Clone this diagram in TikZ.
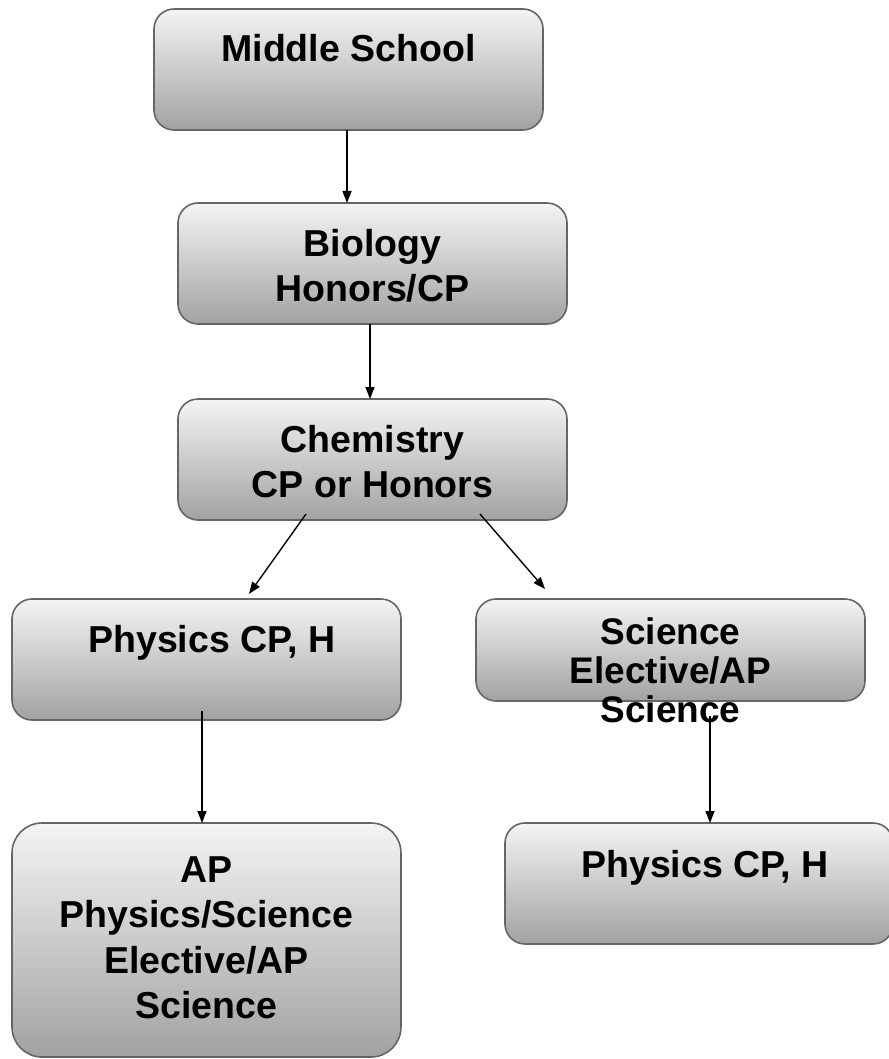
\documentclass[tikz,border=0pt]{standalone}
\usepackage{fontspec}
\setmainfont{Liberation Sans}
\usetikzlibrary{arrows.meta,calc}
\definecolor{boxline}{HTML}{656565}
\definecolor{boxtop}{HTML}{F4F4F4}
\definecolor{boxbot}{HTML}{A2A2A2}
\begin{document}
\begin{tikzpicture}[x=1pt,y=-1pt,
  box/.style={draw=boxline, line width=1.6pt, rounded corners=20pt, top color=boxtop, bottom color=boxbot,
    minimum width=389pt, minimum height=121pt, inner sep=0pt, outer sep=0pt, anchor=north west},
  txt/.style={font=\fontsize{37.5}{45.5}\selectfont\bfseries, align=center, anchor=base, inner sep=0pt},
  arr/.style={-{Triangle[length=12pt,width=9pt]}, line width=1.4pt}]
\useasboundingbox (0,0) rectangle (888,1059);
% boxes
\node[box] (ms) at (154,9) {};
\node[box] (bio) at (178,203) {};
\node[box] (chem) at (178,399) {};
\node[box] (physl) at (12,599) {};
\node[box, minimum height=102pt] (sci) at (476,599) {};
\node[box, minimum height=234pt, rounded corners=30pt] (ap) at (12,823) {};
\node[box, minimum width=388pt] (physr) at (505,823) {};
% texts (anchor = baseline of the last line)
\node[txt] (tms) at (348.5,62) {Middle School};
\node[txt] (tbio) at (372.5,301.5) {Biology\\Honors/CP};
\node[txt] (tchem) at (372.5,497.5) {Chemistry\\CP or Honors};
\node[txt] (tphysl) at (212,652) {Physics CP, H};
\node[txt, font=\fontsize{37}{39}\selectfont\bfseries] (tsci) at (670.5,722) {Science\\Elective/AP\\Science};
\node[txt] (tap) at (206.5,1018.5) {AP\\Physics/Science\\Elective/AP\\Science};
\node[txt] (tphysr) at (705,877) {Physics CP, H};
% connectors
\draw[arr] ($(ms.south)+(-1.5,0)$) -- ($(bio.north)+(-25.5,0)$);
\draw[arr] ($(bio.south)+(-2.5,0)$) -- ($(chem.north)+(-2.5,0)$);
\draw[arr] ($(chem.south)+(-66.5,-6)$) -- ($(physl.north)+(42.5,-5)$);
\draw[arr] ($(chem.south)+(107.5,-6)$) -- ($(sci.north)+(-125.5,-10)$);
\draw[arr] ($(physl.south)+(-4.5,-9)$) -- ($(ap.north)+(-4.5,0)$);
\draw[arr] ($(sci.south)+(39.5,15)$) -- ($(physr.north)+(11,0)$);
\end{tikzpicture}
\end{document}
